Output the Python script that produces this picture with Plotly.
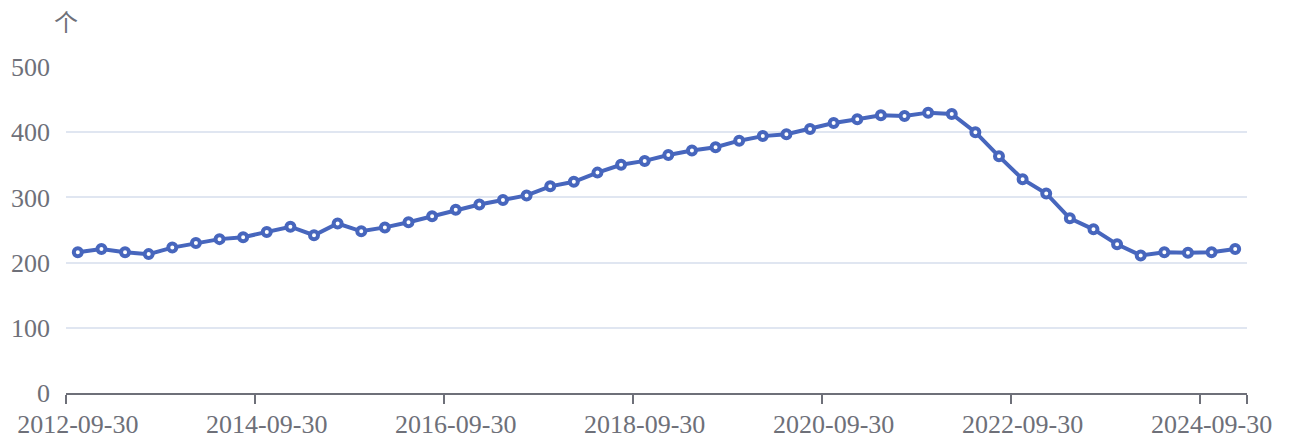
import pandas as pd
import plotly.graph_objects as go

# Quarter-end dates and the count recorded at each
dates = pd.date_range("2012-09-30", periods=50, freq="QE").strftime("%Y-%m-%d").tolist()
counts = [216, 221, 216, 213, 223, 230, 236, 239, 247, 255,
          242, 260, 248, 254, 262, 271, 281, 289, 296, 303,
          317, 324, 338, 350, 356, 365, 372, 377, 387, 394,
          397, 405, 414, 420, 426, 425, 430, 428, 400, 363,
          328, 306, 268, 251, 228, 211, 216, 215, 216, 221]
y_ticks = [0, 100, 200, 300, 400, 500]
label_step = 8

idx = list(range(len(dates)))
label_pos = idx[::label_step]
label_text = [dates[i] for i in label_pos]
# tick marks sit on category boundaries
boundary_pos = [i - 0.5 for i in label_pos] + [len(dates) - 0.5]

LINE = "#4766BD"
TXT = "#6E7079"
FONT = "Liberation Serif, Times New Roman, serif"
FS = 26

fig = go.Figure()
fig.add_trace(go.Scatter(
    x=idx, y=counts, mode="lines+markers",
    line=dict(color=LINE, width=4),
    marker=dict(symbol="circle", size=8, color="white",
                line=dict(color=LINE, width=4)),
    hovertext=dates, cliponaxis=False, showlegend=False,
))
# invisible companion trace to carry the label axis
fig.add_trace(go.Scatter(x=idx, y=counts, xaxis="x2", mode="none",
                         hoverinfo="skip", showlegend=False))

xr = [-0.5, len(dates) - 0.5]
fig.update_layout(
    width=1289, height=441,
    margin=dict(l=66, r=42, t=67, b=47.5),
    paper_bgcolor="white", plot_bgcolor="white",
    font=dict(family=FONT, size=FS, color=TXT),
    xaxis=dict(
        range=xr, tickmode="array", tickvals=boundary_pos,
        ticktext=[""] * len(boundary_pos), automargin=False,
        ticks="outside", ticklen=9, tickwidth=2, tickcolor="#6E7079",
        showgrid=False, zeroline=False,
        showline=True, linecolor="#6E7079", linewidth=2,
    ),
    xaxis2=dict(
        range=xr, overlaying="x", side="bottom", anchor="y",
        tickmode="array", tickvals=label_pos, ticktext=label_text,
        ticks="", showgrid=False, zeroline=False, showline=False,
        ticklabelstandoff=13, automargin=False,
        tickfont=dict(family=FONT, size=FS, color=TXT),
    ),
    yaxis=dict(
        range=[0, 500], tickmode="array", tickvals=y_ticks,
        showgrid=True, gridcolor="#E0E6F1", gridwidth=2,
        zeroline=False, showline=False, ticks="", automargin=False,
        ticklabelstandoff=15,
        tickfont=dict(family=FONT, size=FS, color=TXT),
    ),
    annotations=[dict(
        text="个", xref="paper", yref="paper", x=0, y=1,
        xanchor="center", yanchor="bottom", yshift=27, showarrow=False,
        font=dict(family="Noto Sans CJK SC", size=24, color=TXT),
    )],
)

fig.write_html("out.html")
